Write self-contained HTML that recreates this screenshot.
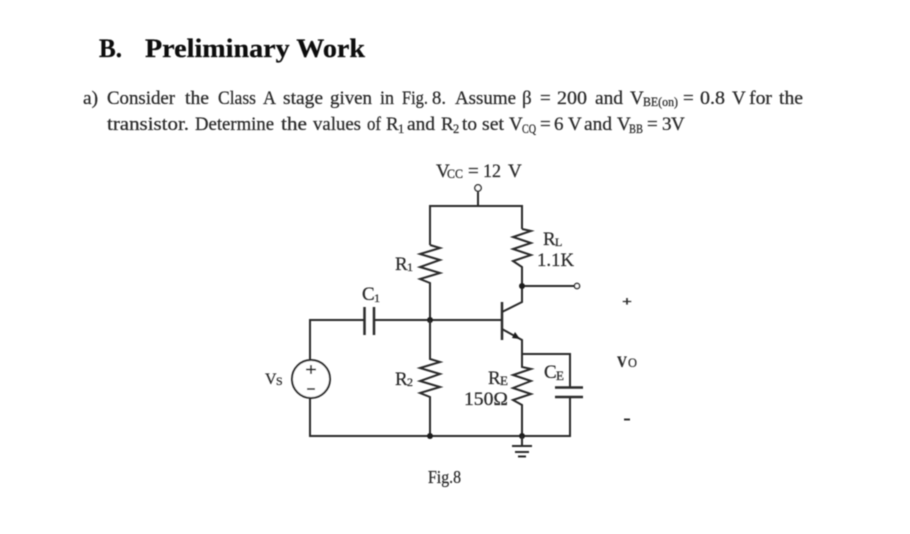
<!DOCTYPE html>
<html><head><meta charset="utf-8"><style>
html,body{margin:0;padding:0;background:#fff}
svg{display:block}
text{font-family:"Liberation Serif",serif;fill:#2a2a2a;stroke:#2a2a2a;stroke-width:.25}
.w{fill:none;stroke:#2b2b2b;stroke-width:2;stroke-linejoin:miter}
.t text{font-size:19px}
.u text{font-size:12.5px}
</style></head><body>
<svg width="910" height="534" viewBox="0 0 910 534" xmlns="http://www.w3.org/2000/svg">
<defs><filter id="b" x="-5%" y="-5%" width="110%" height="110%"><feGaussianBlur stdDeviation="0.45"/></filter></defs>
<rect width="910" height="534" fill="#fff"/>
<g filter="url(#b)">
<text x="99" y="57" font-size="26" font-weight="bold" style="fill:#111;stroke:#111" textLength="23" lengthAdjust="spacingAndGlyphs">B.</text>
<text x="145" y="57" font-size="26" font-weight="bold" style="fill:#111;stroke:#111" textLength="220" lengthAdjust="spacingAndGlyphs">Preliminary Work</text>

<g class="t">
<text x="83" y="104" textLength="15" lengthAdjust="spacingAndGlyphs">a)</text>
<text x="107" y="104" textLength="68" lengthAdjust="spacingAndGlyphs">Consider</text>
<text x="185" y="104" textLength="24" lengthAdjust="spacingAndGlyphs">the</text>
<text x="218" y="104" textLength="38" lengthAdjust="spacingAndGlyphs">Class</text>
<text x="263" y="104" textLength="13" lengthAdjust="spacingAndGlyphs">A</text>
<text x="283" y="104" textLength="40" lengthAdjust="spacingAndGlyphs">stage</text>
<text x="330" y="104" textLength="42" lengthAdjust="spacingAndGlyphs">given</text>
<text x="380" y="104" textLength="14" lengthAdjust="spacingAndGlyphs">in</text>
<text x="402" y="104" textLength="26" lengthAdjust="spacingAndGlyphs">Fig.</text>
<text x="432" y="104" textLength="14" lengthAdjust="spacingAndGlyphs">8.</text>
<text x="455" y="104" textLength="61" lengthAdjust="spacingAndGlyphs">Assume</text>
<text x="522" y="104">β</text>
<text x="540" y="104">=</text>
<text x="557" y="104" textLength="30" lengthAdjust="spacingAndGlyphs">200</text>
<text x="595" y="104" textLength="28" lengthAdjust="spacingAndGlyphs">and</text>
<text x="630" y="104">V</text>
<text x="683" y="104">=</text>
<text x="700" y="104" textLength="25" lengthAdjust="spacingAndGlyphs">0.8</text>
<text x="732" y="104">V</text>
<text x="749" y="104" textLength="23" lengthAdjust="spacingAndGlyphs">for</text>
<text x="779" y="104" textLength="24" lengthAdjust="spacingAndGlyphs">the</text>

<text x="107" y="130" textLength="82" lengthAdjust="spacingAndGlyphs">transistor.</text>
<text x="195" y="130" textLength="79" lengthAdjust="spacingAndGlyphs">Determine</text>
<text x="281" y="130" textLength="26" lengthAdjust="spacingAndGlyphs">the</text>
<text x="313" y="130" textLength="48" lengthAdjust="spacingAndGlyphs">values</text>
<text x="367" y="130" textLength="14" lengthAdjust="spacingAndGlyphs">of</text>
<text x="386" y="130">R</text>
<text x="407" y="130" textLength="28" lengthAdjust="spacingAndGlyphs">and</text>
<text x="441" y="130">R</text>
<text x="462" y="130" textLength="15" lengthAdjust="spacingAndGlyphs">to</text>
<text x="482" y="130" textLength="22" lengthAdjust="spacingAndGlyphs">set</text>
<text x="509" y="130">V</text>
<text x="540" y="130">=</text>
<text x="554" y="130">6</text>
<text x="568" y="130">V</text>
<text x="584" y="130" textLength="28" lengthAdjust="spacingAndGlyphs">and</text>
<text x="617" y="130">V</text>
<text x="647" y="130">=</text>
<text x="662" y="130">3</text>
<text x="671" y="130">V</text>
</g>
<g class="u">
<text x="643" y="106" textLength="35" lengthAdjust="spacingAndGlyphs">BE(on)</text>
<text x="398" y="133">1</text>
<text x="453" y="133">2</text>
<text x="522" y="133" textLength="14" lengthAdjust="spacingAndGlyphs">CQ</text>
<text x="629" y="133" textLength="14" lengthAdjust="spacingAndGlyphs">BB</text>
</g>

<!-- circuit wires -->
<path class="w" d="M478 192V206M430 245V206H522V229"/>
<circle cx="478" cy="188" r="3.200" fill="#fff" stroke="#2b2b2b" stroke-width="1.500"/>
<path class="w" d="M522 229L531 231L513 237L531 243L513 249L531 255L513 261L522 267V302L502 312"/>
<path class="w" d="M522 286H575"/>
<circle cx="577" cy="286" r="2.600" fill="#fff" stroke="#2b2b2b" stroke-width="1.500"/>
<circle cx="522" cy="286" r="3" fill="#1a1a1a"/>
<path class="w" d="M430 245L440 248L420 254L440 260L420 267L440 273L420 279L430 283V320"/>
<path class="w" d="M310 360V320H364M375 320H502"/>
<path class="w" d="M364.500 307V335M374 307V335" style="stroke-width:2.500"/>
<circle cx="430" cy="320" r="3" fill="#1a1a1a"/>
<path class="w" d="M502 302V340" style="stroke-width:2.500"/>
<path class="w" d="M502 329L522 340V367L531 369L513 375L531 381L513 388L531 394L513 400L522 405V436"/>
<path d="M520 339L512 338L515 332Z" fill="#1a1a1a"/>
<path class="w" d="M522 354H570V387M570 397V436H310V398"/>
<path class="w" d="M555 387.500H583M555 397H583" style="stroke-width:2.500"/>
<path class="w" d="M430 320V359L440 362L420 368L440 374L420 381L440 387L420 393L430 397V436"/>
<circle cx="430" cy="436" r="3" fill="#1a1a1a"/>
<circle cx="522" cy="436" r="3" fill="#1a1a1a"/>
<path class="w" d="M522 436V446M512 446H532M515 452H529M518 456.500H526"/>
<circle cx="311" cy="379" r="19" fill="#fff" stroke="#2b2b2b" stroke-width="2"/>
<path d="M306 369.500H316M311 365V374M307 389H315" fill="none" stroke="#2b2b2b" stroke-width="1.700"/>

<!-- circuit labels -->
<text x="436" y="177" font-size="19">V</text>
<text x="447" y="178" font-size="13" textLength="16" lengthAdjust="spacingAndGlyphs">CC</text>
<text x="468" y="177" font-size="19">=</text>
<text x="483" y="177" font-size="19" textLength="18" lengthAdjust="spacingAndGlyphs">12</text>
<text x="508" y="177" font-size="19">V</text>
<text x="543" y="245" font-size="19">R</text><text x="555" y="246" font-size="12">L</text>
<text x="537" y="266" font-size="19" textLength="37" lengthAdjust="spacingAndGlyphs">1.1K</text>
<text x="395" y="270" font-size="19">R</text><text x="407" y="271" font-size="12">1</text>
<text x="362" y="300" font-size="19">C</text><text x="374" y="302" font-size="12">1</text>
<text x="395" y="385" font-size="19">R</text><text x="407" y="386" font-size="12">2</text>
<text x="488" y="384" font-size="19">R</text><text x="500" y="385" font-size="13">E</text>
<text x="464" y="405" font-size="19" textLength="44" lengthAdjust="spacingAndGlyphs">150Ω</text>
<text x="544" y="378" font-size="19">C</text><text x="556" y="380" font-size="13">E</text>
<text x="265" y="384" font-size="16">V</text><text x="276" y="385" font-size="12">S</text>
<text x="428" y="483" font-size="18" textLength="33" lengthAdjust="spacingAndGlyphs">Fig.8</text>
<text x="617" y="367" font-size="16" font-weight="bold" textLength="10" lengthAdjust="spacingAndGlyphs">V</text><text x="628" y="367" font-size="13" textLength="9" lengthAdjust="spacingAndGlyphs">O</text>
<text x="622" y="306" font-size="14" font-weight="bold" textLength="10" lengthAdjust="spacingAndGlyphs">+</text>
<path d="M624 419.500H630" stroke="#333" stroke-width="2"/>
</g>
</svg>
</body></html>
